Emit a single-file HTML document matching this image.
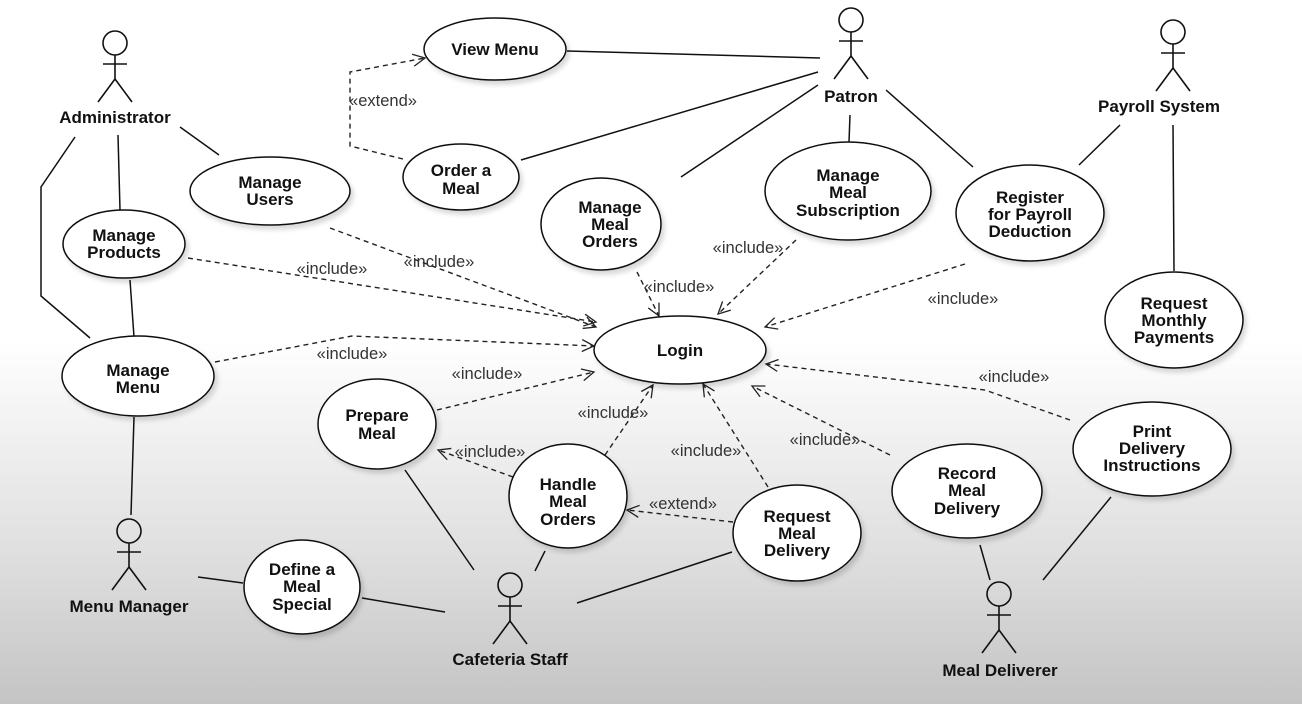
<!DOCTYPE html>
<html><head><meta charset="utf-8"><style>
html,body{margin:0;padding:0;}
body{width:1302px;height:704px;overflow:hidden;background:linear-gradient(to bottom,#fff 0px,#fff 340px,#dedede 560px,#c4c4c4 704px);}
svg{position:absolute;left:0;top:0;}
.t{font-family:"Liberation Sans",Arial,sans-serif;font-weight:bold;font-size:17px;fill:#111;text-anchor:middle;}
.s{font-family:"Liberation Sans",Arial,sans-serif;font-size:16.5px;fill:#333;text-anchor:middle;}
</style></head><body>
<svg width="1302" height="704" viewBox="0 0 1302 704" xmlns="http://www.w3.org/2000/svg">
<defs>
<g id="actor" fill="none" stroke="#111" stroke-width="1.6">
<circle cx="0" cy="0" r="12"/>
<line x1="0" y1="12" x2="0" y2="36"/>
<line x1="-12" y1="21" x2="12" y2="21"/>
<line x1="0" y1="36" x2="-17" y2="59"/>
<line x1="0" y1="36" x2="17" y2="59"/>
</g>
<marker id="ah" markerWidth="16" markerHeight="14" refX="13" refY="7" orient="auto" markerUnits="userSpaceOnUse">
<path d="M1,1 L13,7 L1,13" fill="none" stroke="#222" stroke-width="1.3"/>
</marker>
<filter id="sh" x="-20%" y="-20%" width="150%" height="150%"><feDropShadow dx="3" dy="4" stdDeviation="2.5" flood-color="#000" flood-opacity="0.15"/></filter>
</defs>

<g stroke="#111" stroke-width="1.5" fill="none">
<line x1="180" y1="127" x2="219" y2="155"/>
<line x1="118" y1="135" x2="120" y2="210"/>
<polyline points="75,137 41,187 41,296 90,338"/>
<line x1="130" y1="280" x2="134" y2="337"/>
<line x1="134" y1="417" x2="131" y2="515"/>
<line x1="198" y1="577" x2="243" y2="583"/>
<line x1="362" y1="598" x2="445" y2="612"/>
<line x1="405" y1="470" x2="474" y2="570"/>
<line x1="545" y1="551" x2="535" y2="571"/>
<line x1="577" y1="603" x2="732" y2="552"/>
<line x1="567" y1="51" x2="820" y2="58"/>
<line x1="521" y1="160" x2="818" y2="72"/>
<line x1="681" y1="177" x2="818" y2="85"/>
<line x1="850" y1="115" x2="849" y2="142"/>
<line x1="886" y1="90" x2="973" y2="167"/>
<line x1="1120" y1="125" x2="1079" y2="165"/>
<line x1="1173" y1="125" x2="1174" y2="271"/>
<line x1="980" y1="545" x2="990" y2="580"/>
<line x1="1111" y1="497" x2="1043" y2="580"/>
</g>

<g stroke="#222" stroke-width="1.4" fill="none" stroke-dasharray="5,4" marker-end="url(#ah)">
<polyline points="403,159 350,146 350,72 425,58"/>
<line x1="330" y1="228" x2="596" y2="327"/>
<line x1="188" y1="258" x2="596" y2="322"/>
<polyline points="215,362 352,336 594,346"/>
<line x1="637" y1="272" x2="659" y2="316"/>
<line x1="796" y1="240" x2="718" y2="314"/>
<line x1="965" y1="264" x2="765" y2="327"/>
<polyline points="1070,420 985,390 766,364"/>
<line x1="890" y1="455" x2="752" y2="386"/>
<line x1="768" y1="487" x2="703" y2="384"/>
<line x1="605" y1="455" x2="653" y2="385"/>
<line x1="437" y1="410" x2="594" y2="372"/>
<line x1="513" y1="477" x2="438" y2="450"/>
<line x1="733" y1="522" x2="627" y2="510"/>
</g>

<g fill="#fff" stroke="#111" stroke-width="1.5" filter="url(#sh)">
<ellipse cx="495" cy="49" rx="71" ry="31"/>
<ellipse cx="461" cy="177" rx="58" ry="33"/>
<ellipse cx="270" cy="191" rx="80" ry="34"/>
<ellipse cx="124" cy="244" rx="61" ry="34"/>
<ellipse cx="601" cy="224" rx="60" ry="46"/>
<ellipse cx="848" cy="191" rx="83" ry="49"/>
<ellipse cx="1030" cy="213" rx="74" ry="48"/>
<ellipse cx="1174" cy="320" rx="69" ry="48"/>
<ellipse cx="680" cy="350" rx="86" ry="34"/>
<ellipse cx="138" cy="376" rx="76" ry="40"/>
<ellipse cx="377" cy="424" rx="59" ry="45"/>
<ellipse cx="568" cy="496" rx="59" ry="52"/>
<ellipse cx="797" cy="533" rx="64" ry="48"/>
<ellipse cx="302" cy="587" rx="58" ry="47"/>
<ellipse cx="967" cy="491" rx="75" ry="47"/>
<ellipse cx="1152" cy="449" rx="79" ry="47"/>
</g>

<use href="#actor" x="115" y="43"/>
<use href="#actor" x="851" y="20"/>
<use href="#actor" x="1173" y="32"/>
<use href="#actor" x="129" y="531"/>
<use href="#actor" x="510" y="585"/>
<use href="#actor" x="999" y="594"/>

<text class="t" x="115" y="123">Administrator</text>
<text class="t" x="851" y="102">Patron</text>
<text class="t" x="1159" y="112">Payroll System</text>
<text class="t" x="129" y="612">Menu Manager</text>
<text class="t" x="510" y="665">Cafeteria Staff</text>
<text class="t" x="1000" y="676">Meal Deliverer</text>

<text class="t" x="495" y="55">View Menu</text>
<text class="t" x="461" y="176">Order a</text><text class="t" x="461" y="194">Meal</text>
<text class="t" x="270" y="188">Manage</text><text class="t" x="270" y="205">Users</text>
<text class="t" x="124" y="241">Manage</text><text class="t" x="124" y="258">Products</text>
<text class="t" x="610" y="213">Manage</text><text class="t" x="610" y="230">Meal</text><text class="t" x="610" y="247">Orders</text>
<text class="t" x="848" y="181">Manage</text><text class="t" x="848" y="198">Meal</text><text class="t" x="848" y="216">Subscription</text>
<text class="t" x="1030" y="203">Register</text><text class="t" x="1030" y="220">for Payroll</text><text class="t" x="1030" y="237">Deduction</text>
<text class="t" x="1174" y="309">Request</text><text class="t" x="1174" y="326">Monthly</text><text class="t" x="1174" y="343">Payments</text>
<text class="t" x="680" y="356">Login</text>
<text class="t" x="138" y="376">Manage</text><text class="t" x="138" y="393">Menu</text>
<text class="t" x="377" y="421">Prepare</text><text class="t" x="377" y="439">Meal</text>
<text class="t" x="568" y="490">Handle</text><text class="t" x="568" y="507">Meal</text><text class="t" x="568" y="525">Orders</text>
<text class="t" x="797" y="522">Request</text><text class="t" x="797" y="539">Meal</text><text class="t" x="797" y="556">Delivery</text>
<text class="t" x="302" y="575">Define a</text><text class="t" x="302" y="592">Meal</text><text class="t" x="302" y="610">Special</text>
<text class="t" x="967" y="479">Record</text><text class="t" x="967" y="496">Meal</text><text class="t" x="967" y="514">Delivery</text>
<text class="t" x="1152" y="437">Print</text><text class="t" x="1152" y="454">Delivery</text><text class="t" x="1152" y="471">Instructions</text>

<text class="s" x="383" y="106">«extend»</text>
<text class="s" x="439" y="267">«include»</text>
<text class="s" x="332" y="274">«include»</text>
<text class="s" x="352" y="359">«include»</text>
<text class="s" x="679" y="292">«include»</text>
<text class="s" x="748" y="253">«include»</text>
<text class="s" x="963" y="304">«include»</text>
<text class="s" x="1014" y="382">«include»</text>
<text class="s" x="825" y="445">«include»</text>
<text class="s" x="706" y="456">«include»</text>
<text class="s" x="613" y="418">«include»</text>
<text class="s" x="487" y="379">«include»</text>
<text class="s" x="490" y="457">«include»</text>
<text class="s" x="683" y="509">«extend»</text>
</svg>
</body></html>
